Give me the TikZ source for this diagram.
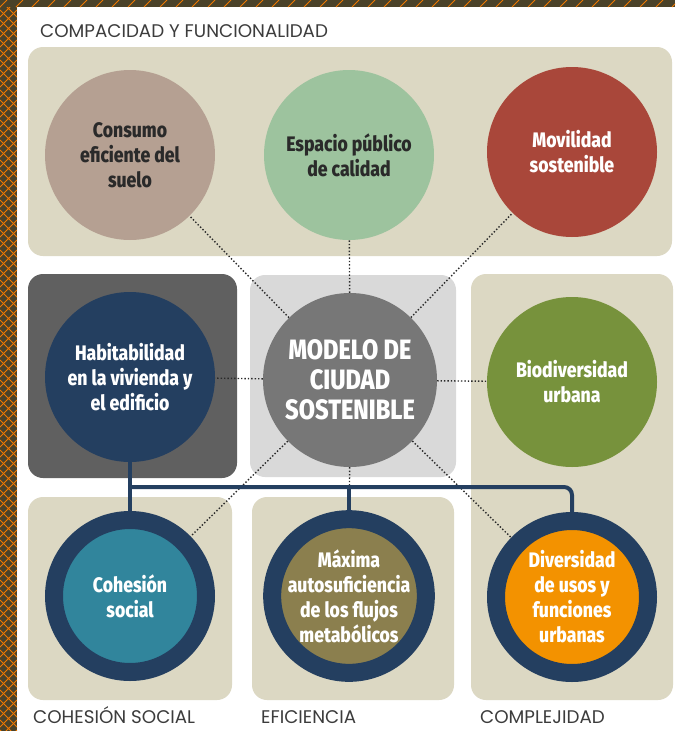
\documentclass[tikz,border=0pt]{standalone}
\usepackage{fontspec}
\newfontfamily\circfont[FakeStretch=0.84, BoldFont={Fira Sans ExtraBold}]{Fira Sans}
\newfontfamily\labfont{Poppins}
\usepackage{tikz}
\usetikzlibrary{backgrounds}
\usepackage{xcolor}
\definecolor{panel-beige}{HTML}{DCD8C3}
\definecolor{panel-dark}{HTML}{606060}
\definecolor{panel-light}{HTML}{D9D9D9}
\definecolor{consumo-brown}{HTML}{B5A092}
\definecolor{espacio-green}{HTML}{9DC39E}
\definecolor{movilidad-red}{HTML}{A9473A}
\definecolor{ring-navy}{HTML}{243F60}
\definecolor{modelo-gray}{HTML}{777777}
\definecolor{biodiv-green}{HTML}{77923C}
\definecolor{cohesion-teal}{HTML}{31859C}
\definecolor{maxima-olive}{HTML}{8B7F4E}
\definecolor{diversidad-orange}{HTML}{F39200}
\definecolor{border-dark}{HTML}{4A4229}
\definecolor{border-orange}{HTML}{F07800}
\definecolor{label-gray}{HTML}{3C3C3C}
\definecolor{dark-text}{HTML}{2A2A2A}
\tikzstyle{panel}=[rounded corners=15pt]
\tikzstyle{goal}=[circle, minimum size=170pt, inner sep=0pt, align=center, text=white,
  font=\circfont\bfseries\fontsize{21}{25}\selectfont]
\tikzstyle{ringgoal}=[goal, minimum size=152pt, line width=18pt, draw=ring-navy]
\tikzstyle{link}=[dotted, line width=1.4pt, dark-text]
\tikzstyle{bus}=[line width=4pt, ring-navy]
\tikzstyle{area}=[anchor=base west, inner sep=0pt, text=label-gray,
  font=\labfont\fontsize{18.3}{19}\selectfont]

\begin{document}
\begin{tikzpicture}[x=1pt,y=-1pt]
	\useasboundingbox (0,0) rectangle (675,731);
	% goals
	\node[goal, fill=consumo-brown, text=dark-text] (consumo) at (130,155) {Consumo\\eficiente del\\suelo};
	\node[goal, fill=espacio-green, text=dark-text] (espacio) at (349,155) {Espacio público\\de calidad};
	\node[goal, fill=movilidad-red] (movilidad) at (572,152) {Movilidad\\sostenible};
	\node[goal, fill=ring-navy] (habit) at (130,377) {Habitabilidad\\en la vivienda y\\el edificio};
	\node[goal, fill=modelo-gray, minimum size=174pt, font=\circfont\bfseries\fontsize{28}{30}\selectfont] (modelo) at (350,380) {MODELO DE\\CIUDAD\\SOSTENIBLE};
	\node[goal, fill=biodiv-green] (biodiv) at (572,382) {Biodiversidad\\urbana};
	\node[ringgoal, fill=cohesion-teal] (cohesion) at (130,596) {Cohesión\\social};
	\node[ringgoal, fill=maxima-olive] (maxima) at (349,596) {Máxima\\autosuficiencia\\de los flujos\\metabólicos};
	\node[ringgoal, fill=diversidad-orange] (diversidad) at (572,597) {Diversidad\\de usos y\\funciones\\urbanas};
	\begin{pgfonlayer}{background}
		\fill[white] (0,0) rectangle (675,731);
		% hatched border
		\begin{scope}
			\clip (0,0) rectangle (17,731);
			\fill[border-dark] (0,0) rectangle (17,731);
			\foreach \k in {-2,...,74}
				\draw[border-orange, line width=1pt] (0,\k*10) -- (17,\k*10+17) (0,\k*10+17) -- (17,\k*10);
		\end{scope}
		\begin{scope}
			\clip (0,0) rectangle (675,7);
			\fill[border-dark] (0,0) rectangle (675,7);
			\foreach \k in {0,...,43}
				\draw[border-orange, line width=1pt] (\k*16,7) -- (\k*16+7,0);
		\end{scope}
		% panels
		\fill[panel, panel-beige] (28,47) rectangle (672,256);
		\fill[panel, panel-dark] (28,274) rectangle (237,478);
		\fill[panel, panel-light] (250,275) rectangle (456,477);
		\fill[panel, panel-beige] (471,274) rectangle (673,700);
		\fill[panel, panel-beige] (28,497) rectangle (232,700);
		\fill[panel, panel-beige] (252,497) rectangle (454,700);
		% links
		\foreach \n in {consumo,espacio,movilidad,habit,biodiv,cohesion,maxima,diversidad}
			\draw[link] (modelo) -- (\n);
		\coordinate (split) at (130,487);
		\draw[bus] (habit.south) -- (cohesion.north);
		\draw[bus, rounded corners=8pt] (split) -| (diversidad.north);
		\draw[bus] (split -| maxima.north) -- (maxima.north);
	\end{pgfonlayer}
	% area labels
	\node[area] (compacidad) at (40,37) {COMPACIDAD Y FUNCIONALIDAD};
	\node[area] (cohesionlab) at (33,723) {COHESIÓN SOCIAL};
	\node[area] (eficiencia) at (261,723) {EFICIENCIA};
	\node[area] (complejidad) at (480,723) {COMPLEJIDAD};
\end{tikzpicture}
\end{document}
